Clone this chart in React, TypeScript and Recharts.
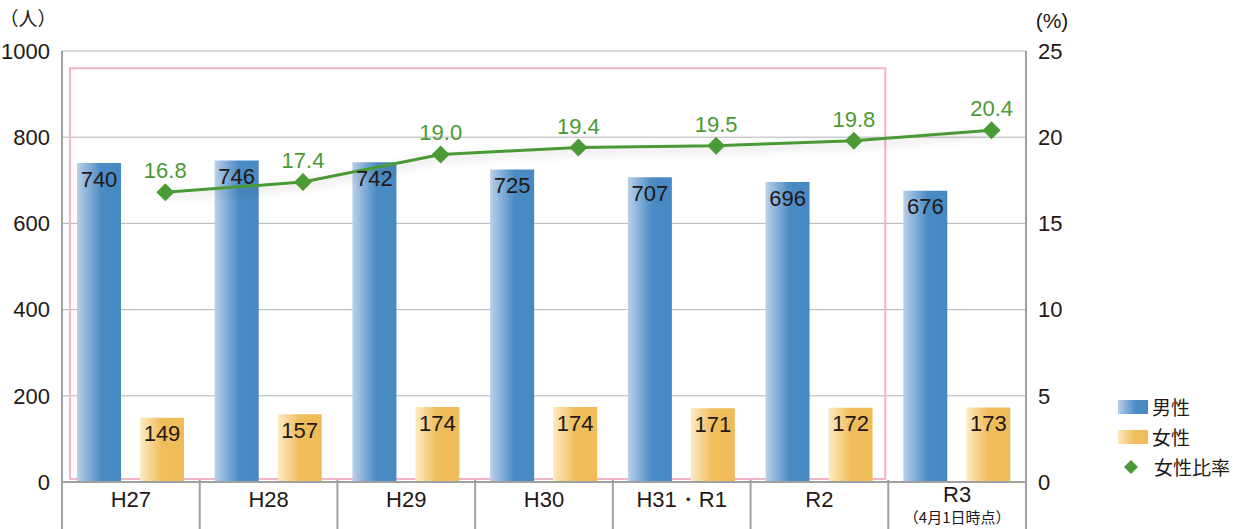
import React from 'react';
import {
  ComposedChart,
  Bar,
  Line,
  XAxis,
  YAxis,
  CartesianGrid,
  LabelList,
  Legend,
  ReferenceArea,
} from 'recharts';

const years = ['H27', 'H28', 'H29', 'H30', 'H31・R1', 'R2', 'R3'];
const male = [740, 746, 742, 725, 707, 696, 676];
const female = [149, 157, 174, 174, 171, 172, 173];
const ratio = [16.8, 17.4, 19.0, 19.4, 19.5, 19.8, 20.4];
const leftTicks = [0, 200, 400, 600, 800, 1000];
const rightTicks = [0, 5, 10, 15, 20, 25];

const data = years.map((year, i) => ({
  year,
  idx: i,
  male: male[i],
  female: female[i],
  ratio: ratio[i],
}));

const NUM = "'Liberation Sans', Arial, sans-serif";
const JP = "'Noto Sans CJK JP', sans-serif";
const TEXT = '#231815';
const GREEN = '#4a9a36';
const AXIS = '#a0a0a0';

const XTick = (props: any) => {
  const { x, y, payload, index, width } = props;
  const band = width / years.length;
  const isLast = index === years.length - 1;
  return (
    <g>
      <line x1={x - band / 2} x2={x - band / 2} y1={y - 10} y2={y + 47} stroke={AXIS} strokeWidth={2} />
      {isLast && (
        <line x1={x + band / 2} x2={x + band / 2} y1={y - 10} y2={y + 47} stroke={AXIS} strokeWidth={2} />
      )}
      <text x={x} y={isLast ? y + 12 : y + 17} textAnchor="middle" fill={TEXT} fontSize={22} fontFamily={NUM}>
        {payload.value}
      </text>
      {isLast && (
        <text x={x} y={y + 33} textAnchor="middle" fill={TEXT} fontSize={15} fontFamily={JP}>
          （4月1日時点）
        </text>
      )}
    </g>
  );
};

const LegendBox = () => (
  <div style={{ fontFamily: JP, fontSize: 19, color: TEXT, lineHeight: '30px' }}>
    <div style={{ display: 'flex', alignItems: 'center' }}>
      <span style={{ display: 'inline-block', width: 30, height: 14, marginRight: 4, background: 'linear-gradient(to right, #b9cfe8, #4a8bc5 60%, #4a8bc5)' }} />
      男性
    </div>
    <div style={{ display: 'flex', alignItems: 'center' }}>
      <span style={{ display: 'inline-block', width: 30, height: 14, marginRight: 4, background: 'linear-gradient(to right, #fbe8bc, #f0bd5c 55%, #f0bd5c)' }} />
      女性
    </div>
    <div style={{ display: 'flex', alignItems: 'center' }}>
      <svg width={30} height={14} style={{ marginRight: 6 }}>
        <polygon points="13,0 20,7 13,14 6,7" fill={GREEN} />
      </svg>
      女性比率
    </div>
  </div>
);

const PinkBox = (props: any) => {
  const { x, y, width, height } = props;
  return <rect x={x + 8} y={y} width={width - 11} height={height} fill="none" stroke="#f2b3cc" strokeWidth={2} />;
};

export default function App() {
  return (
    <div style={{ position: 'absolute', left: 0, top: 0, background: '#fff' }}>
      <ComposedChart
        width={1238}
        height={529}
        data={data}
        margin={{ top: 51, right: 0, left: 0, bottom: 0 }}
        barSize={44}
        barGap={19}
      >
        <defs>
          <linearGradient id="maleGrad" x1="0" y1="0" x2="1" y2="0">
            <stop offset="0%" stopColor="#bad0e9" />
            <stop offset="55%" stopColor="#4a8bc5" />
            <stop offset="100%" stopColor="#4689c3" />
          </linearGradient>
          <linearGradient id="femaleGrad" x1="0" y1="0" x2="1" y2="0">
            <stop offset="0%" stopColor="#fcebc4" />
            <stop offset="50%" stopColor="#f0bd5c" />
            <stop offset="100%" stopColor="#efbc58" />
          </linearGradient>
          <filter id="lineShadow" x="-10%" y="-50%" width="120%" height="200%">
            <feDropShadow dx="0" dy="4" stdDeviation="4" floodColor="#000" floodOpacity="0.18" />
          </filter>
        </defs>
        <CartesianGrid vertical={false} stroke="#b4b4b4" yAxisId="left" />
        <XAxis
          dataKey="year"
          height={47}
          tickLine={false}
          axisLine={{ stroke: AXIS, strokeWidth: 2 }}
          tick={<XTick />}
          interval={0}
        />
        <XAxis xAxisId="line" type="number" dataKey="idx" domain={[-0.75, 6.25]} allowDataOverflow hide />
        <YAxis
          yAxisId="left"
          width={62}
          domain={[0, 1000]}
          ticks={leftTicks}
          tickLine={false}
          axisLine={{ stroke: AXIS, strokeWidth: 2 }}
          tickMargin={6}
          tick={{ fill: TEXT, fontSize: 22, fontFamily: NUM }}
        />
        <YAxis
          yAxisId="right"
          orientation="right"
          width={212}
          domain={[0, 25]}
          ticks={rightTicks}
          tickLine={false}
          axisLine={{ stroke: AXIS, strokeWidth: 2 }}
          tickMargin={6}
          tick={{ fill: TEXT, fontSize: 22, fontFamily: NUM }}
        />
        <ReferenceArea yAxisId="left" x1="H27" x2="R2" y1={7} y2={960} shape={<PinkBox />} />
        <Bar yAxisId="left" dataKey="male" fill="url(#maleGrad)" isAnimationActive={false}>
          <LabelList dataKey="male" position="insideTop" offset={8} fill={TEXT} fontSize={22} fontFamily={NUM} />
        </Bar>
        <Bar yAxisId="left" dataKey="female" fill="url(#femaleGrad)" isAnimationActive={false}>
          <LabelList dataKey="female" position="insideTop" offset={8} fill={TEXT} fontSize={22} fontFamily={NUM} />
        </Bar>
        <Line
          xAxisId="line"
          yAxisId="right"
          dataKey="ratio"
          stroke={GREEN}
          strokeWidth={3}
          filter="url(#lineShadow)"
          isAnimationActive={false}
          dot={(p: any) => (
            <polygon
              key={p.index}
              points={`${p.cx},${p.cy - 9} ${p.cx + 9},${p.cy} ${p.cx},${p.cy + 9} ${p.cx - 9},${p.cy}`}
              fill={GREEN}
            />
          )}
          activeDot={false}
        >
          <LabelList
            dataKey="ratio"
            position="top"
            offset={14}
            fill={GREEN}
            fontSize={22}
            fontFamily={NUM}
            formatter={(v: any) => Number(v).toFixed(1)}
          />
        </Line>
        <text x={28} y={26} textAnchor="middle" fill={TEXT} fontSize={19} fontFamily={JP}>（人）</text>
        <text x={1052} y={28} textAnchor="middle" fill={TEXT} fontSize={21} fontFamily={NUM}>(%)</text>
        <Legend
          layout="horizontal"
          verticalAlign="middle"
          align="center"
          content={<LegendBox />}
          wrapperStyle={{ left: 1118, top: 392, width: 120 }}
        />
      </ComposedChart>
    </div>
  );
}
